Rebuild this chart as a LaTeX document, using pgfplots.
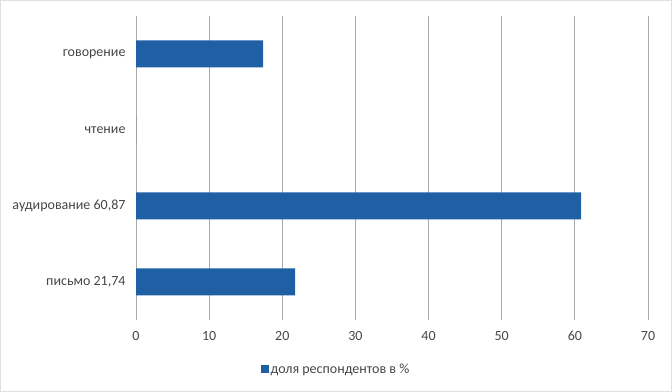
\documentclass[border=0pt]{standalone}
\usepackage{fontspec}
\setmainfont{Carlito}
\usepackage{pgfplots}
\pgfplotsset{compat=1.18}
\definecolor{barblue}{RGB}{31,96,165}
\definecolor{txtgray}{RGB}{70,70,70}
\definecolor{gridgray}{RGB}{170,170,170}
\begin{document}
\begin{tikzpicture}
\path[draw=black!12, line width=0.8bp] (0.4bp,0.4bp) rectangle (671.6bp,391.6bp);
\begin{axis}[
  at={(136bp,72bp)}, anchor=south west,
  scale only axis, width=512bp, height=304bp,
  xbar, bar width=27bp,
  xmin=0, xmax=70, ymin=-0.5, ymax=3.5,
  xtick={0,10,...,70},
  ytick={0,1,2,3},
  yticklabels={письмо 21{,}74, аудирование 60{,}87, чтение\hspace{4bp}, говорение},
  xmajorgrids, grid style={gridgray, line width=0.9bp},
  axis line style={draw=none},
  major tick length=0pt,
  tick label style={txtgray, font=\fontsize{14bp}{16bp}\selectfont},
  /pgf/number format/assume math mode=true,
  yticklabel style={xshift=-7bp},
  xticklabel style={yshift=-8bp},
  legend style={at={(200bp,-49bp)}, anchor=center, draw=none, fill=none,
    font=\fontsize{14bp}{16bp}\selectfont, text=txtgray},
  legend image code/.code={\fill[barblue] (0bp,-4bp) rectangle (8bp,4bp);},
  legend cell align=left,
]
\addplot[fill=barblue, draw=none] coordinates {(21.74,0) (60.87,1) (0,2) (17.39,3)};
\addlegendentry{доля респондентов в \%}
\end{axis}
\end{tikzpicture}
\end{document}
